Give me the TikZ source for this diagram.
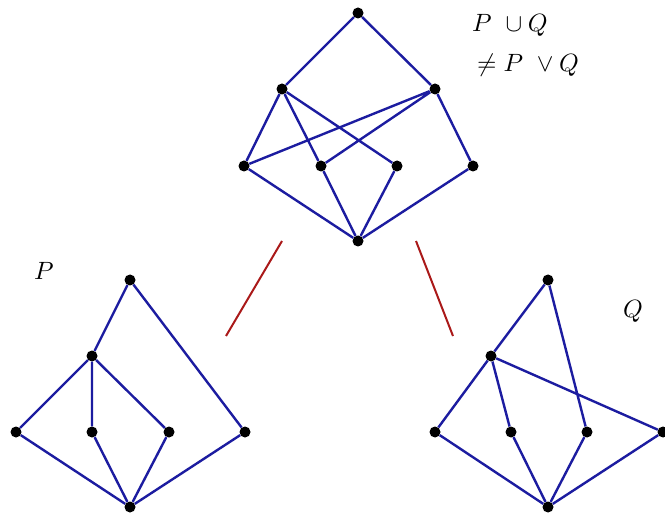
\documentclass[tikz,border=0pt]{standalone}
\usepackage{amssymb}
\definecolor{edgeblue}{RGB}{28,28,160}
\definecolor{linkred}{RGB}{170,25,25}
\newcommand{\bigtxt}[1]{\scalebox{2.5}{#1}}
\begin{document}
\begin{tikzpicture}[x=1pt,y=-1pt,
  dot/.style={circle,fill=black,inner sep=0pt,minimum size=11pt},
  edge/.style={draw=edgeblue,line width=2.4pt},
  link/.style={draw=linkred,line width=2pt},
  lbl/.style={inner sep=0pt}]
\useasboundingbox (0,0) rectangle (665,516);
% top lattice
\node[dot] (t0) at (358,13) {};
\node[dot] (ta) at (282,89) {};
\node[dot] (tb) at (435,89) {};
\node[dot] (t1) at (244,166) {};
\node[dot] (t2) at (321,166) {};
\node[dot] (t3) at (397,166) {};
\node[dot] (t4) at (473,166) {};
\node[dot] (tz) at (358,241) {};
\draw[edge] (t0)--(ta) (t0)--(tb)
  (ta)--(t1) (ta)--(t2) (ta)--(t3)
  (tb)--(t1) (tb)--(t2) (tb)--(t4)
  (tz)--(t1) (tz)--(t2) (tz)--(t3) (tz)--(t4);
% P
\node[dot] (p0) at (130,280) {};
\node[dot] (pa) at (92,356) {};
\node[dot] (p1) at (16,432) {};
\node[dot] (p2) at (92,432) {};
\node[dot] (p3) at (169,432) {};
\node[dot] (p4) at (245,432) {};
\node[dot] (pz) at (130,507) {};
\draw[edge] (p0)--(pa) (p0)--(p4)
  (pa)--(p1) (pa)--(p2) (pa)--(p3)
  (pz)--(p1) (pz)--(p2) (pz)--(p3) (pz)--(p4);
% Q
\node[dot] (q0) at (548,280) {};
\node[dot] (qa) at (491,356) {};
\node[dot] (q1) at (435,432) {};
\node[dot] (q2) at (511,432) {};
\node[dot] (q3) at (587,432) {};
\node[dot] (q4) at (663,432) {};
\node[dot] (qz) at (548,507) {};
\draw[edge] (q0)--(qa) (q0)--(q3)
  (qa)--(q1) (qa)--(q2) (qa)--(q4)
  (qz)--(q1) (qz)--(q2) (qz)--(q3) (qz)--(q4);
% red links
\coordinate (l1) at (282,241);
\coordinate (l2) at (226,336);
\coordinate (r1) at (416,241);
\coordinate (r2) at (453,336);
\draw[link] (l1)--(l2);
\draw[link] (r1)--(r2);
% labels
\node[lbl,anchor=base west] (u1) at (472,32) {\bigtxt{$P\ \cup Q$}};
\node[lbl,anchor=base west] (u2) at (477,72) {\bigtxt{$\neq P\ \vee Q$}};
\node[lbl] (lp) at (44,271) {\bigtxt{$P$}};
\node[lbl] (lq) at (633,311) {\bigtxt{$Q$}};
\end{tikzpicture}
\end{document}
